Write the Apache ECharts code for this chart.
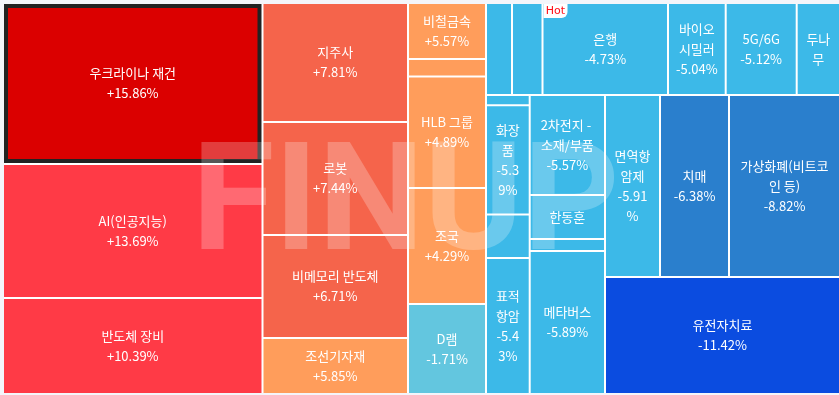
<!DOCTYPE html>
<html><head><meta charset="utf-8">
<script src="https://cdn.jsdelivr.net/npm/echarts@6/dist/echarts.min.js"></script>
<style>html,body{margin:0;padding:0;background:#f4f5fa;} #c{width:839px;height:395px;}</style>
</head><body><div id="c"></div>
<script>
// ---- data (ordered by change, as in the reference) ----
const names = ['우크라이나 재건','AI(인공지능)','반도체 장비','지주사','로봇','비메모리 반도체','조선기자재',
  '비철금속','','HLB 그룹','조국','D램',
  '','','은행','바이오시밀러','5G/6G','두나무',
  '','화장품','','표적항암',
  '2차전지 - 소재/부품','한동훈','','메타버스',
  '면역항암제','치매','가상화폐(비트코인 등)','유전자치료'];
const sizes = [41780,34773,24912,17315,16442,14987,8148,
  4368,1365,8697,9048,7020,
  2392,2806,11546,5308,6532,3984,
  450,4772,1901,5943,
  7530,3313,904,10768,
  10010,12558,20202,27495];
const changes = [15.86,13.69,10.39,7.81,7.44,6.71,5.85,
  5.57,5.2,4.89,4.29,-1.71,
  -3.5,-4.2,-4.73,-5.04,-5.12,null,
  -5.3,-5.39,-5.41,-5.43,
  -5.57,null,-5.8,-5.89,
  -5.91,-6.38,-8.82,-11.42];
const highlighted = '우크라이나 재건';
const hotName = '은행';

// ---- style ----
const BOX = {left: 4, top: 4, width: 835, height: 389};
function colorFor(c) {
  if (c == null) return '#3cb9e8';
  if (c >= 15) return '#db0000';
  if (c >= 10) return '#ff3a46';
  if (c >= 6) return '#f5644b';
  if (c >= 0) return '#ff9d5b';
  if (c > -3) return '#63c6df';
  if (c > -6) return '#3cb9e8';
  if (c > -10) return '#2a7fcd';
  return '#0b4ce0';
}
const data = names.map((n, i) => {
  const item = {name: n, value: sizes[i], change: changes[i], itemStyle: {color: colorFor(changes[i])}};
  if (n === highlighted) { item.itemStyle.borderWidth = 4; item.itemStyle.borderColor = '#222'; }
  return item;
});

const chart = echarts.init(document.getElementById('c'), null, {renderer: 'canvas'});
chart.setOption({
  animation: false,
  backgroundColor: '#f4f5fa',
  series: [{
    type: 'treemap',
    left: BOX.left, top: BOX.top, width: BOX.width, height: BOX.height,
    sort: false, roam: false, nodeClick: false,
    breadcrumb: {show: false},
    itemStyle: {gapWidth: 2, borderWidth: 0, borderColor: '#fff'},
    label: {
      show: true, position: 'inside', color: '#fff',
      fontFamily: '"Noto Sans CJK KR", "Noto Sans", sans-serif', fontSize: 13, lineHeight: 20,
      padding: [3, 6.5], overflow: 'breakAll', align: 'center', verticalAlign: 'middle',
      formatter: p => {
        if (!p.name) return '';
        const c = p.data.change;
        if (c == null) return p.name;
        return p.name + '\n' + (c > 0 ? '+' : '') + c.toFixed(2) + '%';
      }
    },
    emphasis: {disabled: true},
    data: data
  }]
});

const graphics = [{
  type: 'text', z: 100, silent: true,
  style: {x: 192, y: 211, text: 'FINUP', fontSize: 150, fontWeight: 'bold',
    fontFamily: 'Roboto, "DejaVu Sans", sans-serif',
    fill: 'rgba(255,255,255,0.24)', verticalAlign: 'middle'}
}];

// "Hot" badge anchored to the library-computed layout of its node
try {
  const sd = chart.getModel().getSeriesByIndex(0).getData();
  const idx = names.indexOf(hotName);
  let lay = sd.tree ? sd.tree.root.children[idx].getLayout() : sd.getItemLayout(idx + 1);
  const hx = BOX.left + lay.x, hy = BOX.top + lay.y;
  if (isFinite(hx) && isFinite(hy)) {
    graphics.push({
      type: 'group', silent: true, x: hx, y: hy,
      children: [
        {type: 'rect', z: 110, shape: {x: 0, y: 0, width: 24, height: 14, r: [0, 0, 6, 0]}, style: {fill: '#fff'}},
        {type: 'text', z: 111, style: {x: 12, y: 7.5, text: 'Hot', align: 'center', verticalAlign: 'middle',
          fontSize: 11, fontFamily: '"DejaVu Sans", sans-serif', fill: '#ff0a14'}}
      ]
    });
  }
} catch (e) {}
chart.setOption({graphic: graphics});
</script>
</body></html>
